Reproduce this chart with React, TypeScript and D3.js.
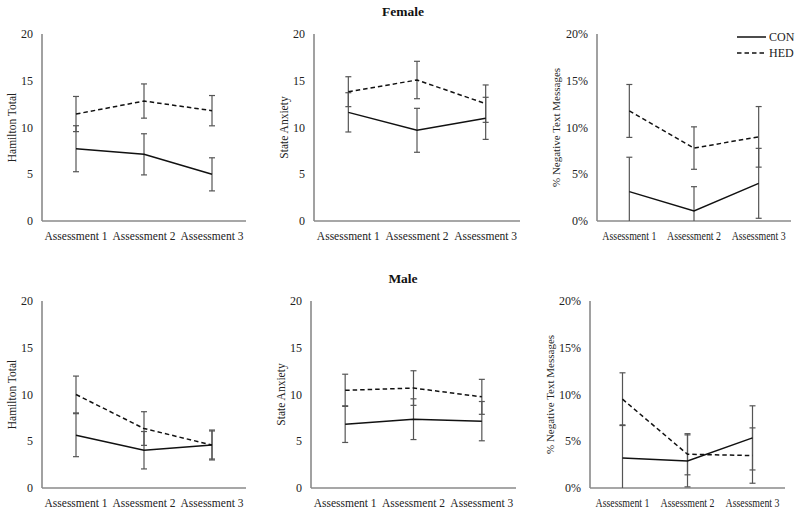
import React from "react";
import * as d3 from "d3";

const categories = ["Assessment 1", "Assessment 2", "Assessment 3"];
const groups = ["CON", "HED"];
const rowTitles = ["Female", "Male"];
const yTicks = [0, 5, 10, 15, 20];
const yTitles = ["Hamilton Total", "State Anxiety", "% Negative Text Messages"];

// Female
const femaleHamCon = [7.73, 7.13, 4.99];
const femaleHamConErr = [2.46, 2.2, 1.77];
const femaleHamHed = [11.44, 12.83, 11.8];
const femaleHamHedErr = [1.88, 1.83, 1.62];
const femaleSaCon = [11.62, 9.7, 10.98];
const femaleSaConErr = [2.1, 2.35, 2.25];
const femaleSaHed = [13.83, 15.08, 12.55];
const femaleSaHedErr = [1.6, 2.0, 2.0];
const femaleNegCon = [3.14, 1.07, 4.03];
const femaleNegConErr = [3.68, 2.6, 3.74];
const femaleNegHed = [11.77, 7.8, 9.0];
const femaleNegHedErr = [2.83, 2.27, 3.24];
// Male
const maleHamCon = [5.65, 4.04, 4.6];
const maleHamConErr = [2.3, 2.0, 1.5];
const maleHamHed = [10.0, 6.36, 4.6];
const maleHamHedErr = [1.97, 1.8, 1.6];
const maleSaCon = [6.83, 7.36, 7.15];
const maleSaConErr = [1.96, 2.18, 2.1];
const maleSaHed = [10.45, 10.69, 9.75];
const maleSaHedErr = [1.72, 1.85, 1.87];
const maleNegCon = [3.22, 2.9, 5.36];
const maleNegConErr = [3.53, 2.78, 3.43];
const maleNegHed = [9.5, 3.61, 3.47];
const maleNegHedErr = [2.82, 2.2, 2.96];

const panelData = [
  [[femaleHamCon, femaleHamConErr, femaleHamHed, femaleHamHedErr],
   [femaleSaCon, femaleSaConErr, femaleSaHed, femaleSaHedErr],
   [femaleNegCon, femaleNegConErr, femaleNegHed, femaleNegHedErr]],
  [[maleHamCon, maleHamConErr, maleHamHed, maleHamHedErr],
   [maleSaCon, maleSaConErr, maleSaHed, maleSaHedErr],
   [maleNegCon, maleNegConErr, maleNegHed, maleNegHedErr]],
];

// layout (positions only)
const rowLayout = [
  { top: 34, bottom: 221, titleY: 16 },
  { top: 301, bottom: 488, titleY: 283 },
];
const colLayout = [
  [{ x0: 42, x1: 246, tx: 16 }, { x0: 314, x1: 520, tx: 288 }, { x0: 597, x1: 791, tx: 560 }],
  [{ x0: 42, x1: 246, tx: 16 }, { x0: 311, x1: 516, tx: 285 }, { x0: 590, x1: 785, tx: 554 }],
];

const FONT = "'Liberation Serif', 'Times New Roman', serif";
const TEXT = "#222";
const AXIS = "#8a8a8a";
const ERR = "#555";

function Panel({ r, c }: { r: number; c: number }) {
  const row = rowLayout[r];
  const col = colLayout[r][c];
  const isPct = c === 2;
  const [con, conErr, hed, hedErr] = panelData[r][c];
  const x = d3.scaleBand().domain(categories).range([col.x0, col.x1]);
  const cx = (k: string) => (x(k) as number) + x.bandwidth() / 2;
  const y = d3.scaleLinear().domain([0, 20]).range([row.bottom, row.top]);
  const line = d3
    .line<number>()
    .x((_, i) => cx(categories[i]))
    .y((v) => y(v));
  const series = [
    { vals: con, err: conErr, dash: undefined as string | undefined },
    { vals: hed, err: hedErr, dash: "4.5,3" },
  ];
  const fmt = (v: number) => (isPct ? `${v}%` : `${v}`);
  return (
    <g>
      {yTicks.map((t) => (
        <text
          key={t}
          x={col.x0 - 9}
          y={y(t)}
          dy="0.35em"
          textAnchor="end"
          fontSize={12}
          fill={TEXT}
        >
          {fmt(t)}
        </text>
      ))}
      <text
        transform={`translate(${col.tx},${(row.top + row.bottom) / 2}) rotate(-90)`}
        textAnchor="middle"
        fontSize={isPct ? 11 : 11.5}
        fill={TEXT}
      >
        {yTitles[c]}
      </text>
      {categories.map((k) => (
        <text
          key={k}
          x={cx(k)}
          y={row.bottom + 19}
          textAnchor="middle"
          fontSize={isPct ? 11.5 : 11.5}
          fill={TEXT}
          {...(isPct ? { textLength: 54, lengthAdjust: "spacingAndGlyphs" } : {})}
        >
          {k}
        </text>
      ))}
      <line x1={col.x0} x2={col.x0} y1={row.top} y2={row.bottom} stroke={AXIS} strokeWidth={1.6} />
      <line x1={col.x0} x2={col.x1} y1={row.bottom} y2={row.bottom} stroke={AXIS} strokeWidth={1.6} />
      {series.map((s, si) =>
        s.vals.map((v, i) => {
          const px = cx(categories[i]);
          const hi = v + s.err[i];
          const lo = v - s.err[i];
          const loC = Math.max(0, lo);
          return (
            <g key={`e${si}-${i}`} stroke={ERR} strokeWidth={1.2}>
              <line x1={px} x2={px} y1={y(hi)} y2={y(loC)} />
              <line x1={px - 3} x2={px + 3} y1={y(hi)} y2={y(hi)} />
              {lo >= 0 && <line x1={px - 3} x2={px + 3} y1={y(lo)} y2={y(lo)} />}
            </g>
          );
        })
      )}
      {series.map((s, si) => (
        <path
          key={`l${si}`}
          d={line(s.vals) as string}
          fill="none"
          stroke="#111"
          strokeWidth={1.5}
          strokeDasharray={s.dash}
        />
      ))}
    </g>
  );
}

export default function App() {
  return (
    <svg
      width={800}
      height={513}
      style={{ position: "absolute", left: 0, top: 0, background: "#fff" }}
      fontFamily={FONT}
    >
      <rect width={800} height={513} fill="#fff" />
      {rowTitles.map((t, r) => (
        <text
          key={t}
          x={403}
          y={rowLayout[r].titleY}
          textAnchor="middle"
          fontSize={13.5}
          fontWeight="bold"
          fill="#111"
        >
          {t}
        </text>
      ))}
      {[0, 1].map((r) => [0, 1, 2].map((c) => <Panel key={`${r}-${c}`} r={r} c={c} />))}
      {groups.map((g, i) => (
        <g key={g}>
          <line
            x1={737}
            x2={766}
            y1={37 + i * 16}
            y2={37 + i * 16}
            stroke="#111"
            strokeWidth={1.5}
            strokeDasharray={i === 1 ? "4.5,3" : undefined}
          />
          <text x={769} y={37 + i * 16} dy="0.35em" fontSize={12} fill={TEXT}>
            {g}
          </text>
        </g>
      ))}
    </svg>
  );
}
